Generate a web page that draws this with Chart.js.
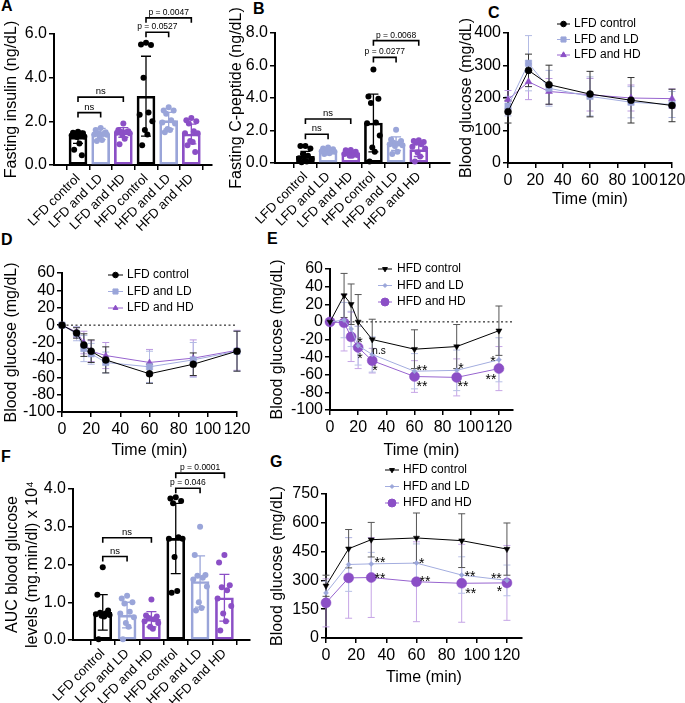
<!DOCTYPE html>
<html><head><meta charset="utf-8"><title>Figure</title>
<script src="https://cdn.jsdelivr.net/npm/chart.js@4.4.1/dist/chart.umd.min.js"></script>
<style>
html,body{margin:0;padding:0;background:#fff}
body{position:relative;width:685px;height:703px;overflow:hidden;font-family:"Liberation Sans",Arial,sans-serif}
canvas{position:absolute}
.pl{position:absolute;font:bold 16px "Liberation Sans",Arial,sans-serif;line-height:16px;color:#000}
</style></head><body>
<div class="pl" style="left:1px;top:-2px">A</div>
<div class="pl" style="left:253px;top:1px">B</div>
<div class="pl" style="left:488px;top:5px">C</div>
<div class="pl" style="left:1px;top:232px">D</div>
<div class="pl" style="left:267px;top:231px">E</div>
<div class="pl" style="left:1px;top:449px">F</div>
<div class="pl" style="left:270px;top:454px">G</div>
<script>
// ================= DATA =================
const groups = ['LFD control','LFD and LD','LFD and HD','HFD control','HFD and LD','HFD and HD'];

// A: fasting insulin (ng/dL)
const insulinMean = [1.27, 1.42, 1.49, 3.15, 2.03, 1.42];
const insulinSD   = [0.28, 0.26, 0.22, 1.83, 0.38, 0.45];
const insulinPts = [
  [1.52,1.48,1.45,1.42,1.38,1.35,1.30,1.28,0.99,0.70,0.45],
  [1.70,1.60,1.50,1.45,1.42,1.40,1.38,1.30,1.15,1.10],
  [1.90,1.60,1.55,1.52,1.50,1.48,1.45,1.40,1.20,0.95],
  [5.60,5.52,5.50,4.00,2.40,2.30,2.00,1.60,1.40,0.90],
  [2.65,2.50,2.50,2.35,2.05,1.95,1.90,1.65,1.60,1.50],
  [2.15,2.05,2.00,1.90,1.55,1.45,1.45,1.10,1.05,0.90,0.60]
];
const insulinSig = [
  {from:0,to:1,level:2.40,text:'ns'},
  {from:0,to:2,level:3.11,text:'ns'},
  {from:3,to:4,level:6.08,text:'p = 0.0527'},
  {from:3,to:5,level:6.74,text:'p = 0.0047'}
];

// B: fasting C-peptide (ng/dL)
const cpepMean = [0.41, 0.72, 0.62, 2.46, 1.19, 0.82];
const cpepSD   = [0.30, 0.15, 0.15, 1.78, 0.42, 0.42];
const cpepPts = [
  [1.05,1.05,0.90,0.55,0.45,0.30,0.25,0.15,0.10,0.05],
  [0.95,0.90,0.85,0.80,0.75,0.72,0.70,0.65,0.60,0.55],
  [0.80,0.78,0.70,0.65,0.60,0.55,0.50,0.45,0.45],
  [5.75,4.10,3.95,3.70,2.50,2.45,1.70,0.95,0.70,0.10],
  [2.05,1.45,1.35,1.25,1.20,1.15,1.10,1.05,0.70,0.55],
  [1.40,1.35,1.30,1.25,1.15,1.00,0.90,0.65,0.40,0.10]
];
const cpepSig = [
  {from:0,to:1,level:1.77,text:'ns'},
  {from:0,to:2,level:2.71,text:'ns'},
  {from:3,to:4,level:6.50,text:'p = 0.0277'},
  {from:3,to:5,level:7.53,text:'p = 0.0068'}
];

// F: AUC blood glucose (x10^4)
const aucMean = [0.73, 0.66, 0.55, 2.69, 1.55, 1.12];
const aucSD   = [0.47, 0.34, 0.20, 0.93, 0.68, 0.62];
const aucPts = [
  [1.93,1.20,0.78,0.72,0.70,0.68,0.66,0.64,0.62,0.02],
  [1.17,1.10,1.00,0.97,0.75,0.70,0.60,0.45,0.35,0.02],
  [1.07,0.65,0.62,0.58,0.55,0.50,0.45,0.35,0.30],
  [3.78,3.75,3.68,3.62,2.72,2.68,2.68,2.20,1.30,1.25],
  [3.00,2.25,1.72,1.70,1.65,1.60,1.42,1.00,0.85,0.78],
  [2.25,2.05,1.45,1.40,1.32,1.10,0.90,0.70,0.50,0.25]
];
const aucSig = [
  {from:0,to:1,level:2.21,text:'ns'},
  {from:0,to:2,level:2.71,text:'ns'},
  {from:3,to:4,level:4.02,text:'p = 0.046'},
  {from:3,to:5,level:4.42,text:'p = 0.0001'}
];

// time axes
const gttTimes = [0, 15, 30, 60, 90, 120];
const ittTimes = [0, 10, 15, 20, 30, 60, 90, 120];
const timeTicks = [0, 20, 40, 60, 80, 100, 120];

const lfdLabels = ['LFD control','LFD and LD','LFD and HD'];
const hfdLabels = ['HFD control','HFD and LD','HFD and HD'];

// C: GTT, LFD (mg/dL)
const gttLfdCtrl = [158, 285, 241, 212, 193, 177];
const gttLfdCtrlSD = [35, 50, 60, 70, 70, 50];
const gttLfdLD = [175, 307, 230, 205, 187, 180];
const gttLfdLDSD = [30, 85, 55, 60, 48, 40];
const gttLfdHD = [195, 250, 220, 210, 200, 198];
const gttLfdHDSD = [28, 55, 40, 50, 40, 30];

// D: ITT change, LFD (mg/dL)
const ittLfdCtrl = [0, -9, -23, -30, -40, -56, -45, -30];
const ittLfdCtrlSD = [0, 6, 13, 13, 15, 11, 13, 23];
const ittLfdLD = [0, -10, -27, -33, -43, -48, -40, -30];
const ittLfdLDSD = [0, 8, 15, 12, 12, 18, 20, 23];
const ittLfdHD = [0, -8, -20, -30, -35, -43, -38, -29];
const ittLfdHDSD = [0, 6, 13, 12, 15, 15, 21, 23];

// E: ITT change, HFD (mg/dL)
const ittHfdCtrl = [0, 30, 20, 0, -20, -31, -28, -10];
const ittHfdCtrlSD = [0, 25, 23, 31, 23, 22, 25, 28];
const ittHfdLD = [0, 2, -8, -27, -37, -56, -55, -43];
const ittHfdLDSD = [0, 20, 20, 22, 20, 20, 23, 25];
const ittHfdHD = [0, -1, -17, -29, -44, -62, -63, -53];
const ittHfdHDSD = [0, 32, 28, 24, 14, 18, 21, 25];
const ittHfdSig = [
  {x:21.3,y:-20,text:'*'},{x:21.3,y:-38,text:'*'},{x:34.8,y:-33,text:'n.s'},{x:32,y:-52,text:'*'},
  {x:65.3,y:-52,text:'**'},{x:65.3,y:-70,text:'**'},{x:93,y:-50,text:'*'},{x:94.5,y:-70,text:'**'},
  {x:115.8,y:-41,text:'*'},{x:114.4,y:-62,text:'**'}
];

// G: GTT, HFD (mg/dL)
const gttHfdCtrl = [272, 465, 512, 521, 507, 463];
const gttHfdCtrlSD = [55, 100, 90, 130, 140, 136];
const gttHfdLD = [235, 383, 386, 390, 328, 300];
const gttHfdLDSD = [60, 140, 60, 100, 95, 80];
const gttHfdHD = [183, 313, 315, 293, 285, 287];
const gttHfdHDSD = [125, 210, 208, 208, 203, 195];
const gttHfdSig = [
  {x:35.8,y:408,text:'**'},{x:35.8,y:326,text:'**'},{x:63.5,y:403,text:'*'},{x:65.6,y:312,text:'**'},
  {x:95.5,y:338,text:'**'},{x:96,y:248,text:'**'},{x:113,y:324,text:'**'},{x:115,y:257,text:'*'}
];

// ================= STYLE / HELPERS =================
const FONT = '"Liberation Sans", Arial, Helvetica, sans-serif';
Chart.defaults.font.family = FONT;
Chart.defaults.color = '#000';
Chart.defaults.animation = false;
Chart.defaults.responsive = false;
Chart.defaults.maintainAspectRatio = false;
Chart.defaults.plugins.legend.display = false;
Chart.defaults.plugins.tooltip.enabled = false;
Chart.defaults.events = [];

const C_BLACK = '#000000', C_LD = '#9aa5d9', C_HD = '#8b4fc6';
const groupColors = [C_BLACK, C_LD, C_HD, C_BLACK, C_LD, C_HD];
const jitter = [0, -0.22, 0.22, -0.11, 0.11, -0.28, 0.28, -0.05, 0.06, -0.17, 0.17];

function makeCanvas(box){
  const cv = document.createElement('canvas');
  cv.width = box.w; cv.height = box.h;
  cv.style.left = box.x+'px'; cv.style.top = box.y+'px';
  cv.style.width = box.w+'px'; cv.style.height = box.h+'px';
  document.body.appendChild(cv);
  return cv;
}
function setFont(ctx, size, weight){ ctx.font = (weight||'normal')+' '+size+'px '+FONT; }

function yScaleCfg(p){
  return {
    type:'linear', position:'left', min:p.yMin, max:p.yMax,
    border:{display:true,color:'#000',width:2},
    grid:{drawOnChartArea:false, drawTicks:true, tickLength:5, color:'#000', lineWidth:1.5},
    ticks:{stepSize:p.yStep, autoSkip:false, font:{size:16}, color:'#000', padding:2, callback:p.yFmt},
    title:{display:true, text:p.yTitle, color:'#000', font:{size:16, lineHeight:1.2},
           padding:{top:p.yTitleX - p.box.x - 9.6, bottom:0}},
    afterFit: s => { s.width = p.area.l - p.box.x; }
  };
}

function barPanel(p){
  const cv = makeCanvas(p.box);
  const xmin = -(p.catX0 - p.area.l)/p.catStep, xmax = (p.area.r - p.catX0)/p.catStep;
  const ds = [];
  ds.push({type:'bar', data:p.means.map((m,i)=>({x:i,y:m})), backgroundColor:'rgba(255,255,255,0)',
           borderColor:groupColors, borderWidth:2, borderSkipped:false, barThickness:p.barW, order:2});
  p.pts.forEach((arr,g)=>ds.push({type:'scatter', data:arr.map((v,j)=>({x:g+jitter[j%jitter.length], y:v})),
           pointRadius:3, pointBackgroundColor:groupColors[g], pointBorderWidth:0, order:1, clip:false}));
  const plug = {id:'barExtras', afterDatasetsDraw(ch){
    const ctx = ch.ctx, X = ch.scales.x, Y = ch.scales.y;
    ctx.save();
    p.means.forEach((m,i)=>{
      const px = X.getPixelForValue(i), t = Y.getPixelForValue(m+p.sds[i]), b = Y.getPixelForValue(Math.max(m-p.sds[i], p.yMin));
      ctx.strokeStyle = groupColors[i]; ctx.lineWidth = 1.3;
      ctx.beginPath(); ctx.moveTo(px,t); ctx.lineTo(px,b);
      ctx.moveTo(px-5,t); ctx.lineTo(px+5,t); ctx.moveTo(px-5,b); ctx.lineTo(px+5,b); ctx.stroke();
    });
    p.sig.forEach(s=>{
      const x1 = X.getPixelForValue(s.from), x2 = X.getPixelForValue(s.to), yy = Y.getPixelForValue(s.level);
      ctx.strokeStyle = '#000'; ctx.lineWidth = 1.6;
      ctx.beginPath(); ctx.moveTo(x1,yy+5); ctx.lineTo(x1,yy); ctx.lineTo(x2,yy); ctx.lineTo(x2,yy+5); ctx.stroke();
      ctx.fillStyle = '#000'; setFont(ctx, s.text==='ns'?9.5:8.5);
      ctx.textAlign='center'; ctx.textBaseline='alphabetic';
      ctx.fillText(s.text, (x1+x2)/2, yy-3);
    });
    ctx.restore();
  }};
  new Chart(cv, {type:'scatter', data:{datasets:ds}, options:{
    layout:{padding:{left:0, top:p.area.t-p.box.y, right:p.box.x+p.box.w-p.area.r, bottom:0}},
    scales:{
      x:{type:'linear', min:xmin, max:xmax,
         border:{display:true,color:'#000',width:2},
         grid:{drawOnChartArea:false, drawTicks:true, tickLength:5, color:'#000', lineWidth:1.5},
         afterBuildTicks: s => { s.ticks = groups.map((g,i)=>({value:i})); },
         ticks:{autoSkip:false, minRotation:45, maxRotation:45, font:{size:13}, color:'#000', padding:1,
                callback:(v)=>groups[Math.round(v)]},
         afterFit: s => { s.height = p.box.y+p.box.h-p.area.b; }},
      y: yScaleCfg(p)
    }}, plugins:[plug]});
}

function drawMarker(ctx, s, x, y, r){
  ctx.fillStyle = s.fill; ctx.strokeStyle = s.fill;
  if (Chart.helpers && Chart.helpers.drawPoint) {
    Chart.helpers.drawPoint(ctx, {pointStyle:s.style, radius:r, rotation:s.rot||0, borderWidth:0.5}, x, y);
  } else { ctx.beginPath(); ctx.arc(x,y,r,0,Math.PI*2); ctx.fill(); }
}

function linePanel(p){
  const cv = makeCanvas(p.box);
  const ds = p.series.map(s=>({type:'line', data:p.xs.map((t,i)=>({x:t,y:s.values[i]})),
    borderColor:s.line, borderWidth:1, pointStyle:s.style, pointRadius:s.r, pointRotation:s.rot||0,
    pointBackgroundColor:s.fill, pointBorderColor:s.fill, pointBorderWidth:0.5, tension:0, fill:false, clip:false}));
  const plug = {id:'lineExtras',
    beforeDatasetsDraw(ch){
      const ctx = ch.ctx, X = ch.scales.x, Y = ch.scales.y, a = ch.chartArea;
      ctx.save();
      if (p.zeroLine){
        const y0 = Y.getPixelForValue(0);
        ctx.strokeStyle='#000'; ctx.lineWidth=1; ctx.setLineDash([2,2.5]);
        ctx.beginPath(); ctx.moveTo(a.left, y0); ctx.lineTo(a.right, y0); ctx.stroke(); ctx.setLineDash([]);
      }
      p.series.slice().reverse().forEach(s=>{
        ctx.strokeStyle = s.err; ctx.lineWidth = 1;
        p.xs.forEach((t,i)=>{
          if(!s.sd[i]) return;
          const px = X.getPixelForValue(t), tp = Y.getPixelForValue(s.values[i]+s.sd[i]), bt = Y.getPixelForValue(s.values[i]-s.sd[i]);
          ctx.beginPath(); ctx.moveTo(px,tp); ctx.lineTo(px,bt);
          ctx.moveTo(px-3.5,tp); ctx.lineTo(px+3.5,tp); ctx.moveTo(px-3.5,bt); ctx.lineTo(px+3.5,bt); ctx.stroke();
        });
      });
      ctx.restore();
    },
    afterDatasetsDraw(ch){
      const ctx = ch.ctx, X = ch.scales.x, Y = ch.scales.y;
      ctx.save();
      (p.sig||[]).forEach(s=>{
        const px = X.getPixelForValue(s.x), py = Y.getPixelForValue(s.y);
        ctx.fillStyle='#000'; ctx.textAlign='center'; ctx.textBaseline='alphabetic';
        if (s.text==='n.s'){ setFont(ctx,10); ctx.fillText(s.text, px, py+3); }
        else { setFont(ctx,14); ctx.fillText(s.text, px, py+7.5); }
      });
      const L = p.legend;
      p.series.forEach((s,i)=>{
        const y = L.y + i*L.dy - p.box.y, x1 = L.x - p.box.x, x2 = x1 + L.len;
        ctx.strokeStyle = s.line; ctx.lineWidth = 1;
        ctx.beginPath(); ctx.moveTo(x1,y); ctx.lineTo(x2,y); ctx.stroke();
        drawMarker(ctx, s, (x1+x2)/2, y, s.r*0.8);
        ctx.fillStyle='#000'; setFont(ctx,12); ctx.textAlign='left'; ctx.textBaseline='middle';
        ctx.fillText(p.labels[i], L.textX - p.box.x, y);
      });
      ctx.restore();
    }};
  new Chart(cv, {type:'line', data:{datasets:ds}, options:{
    layout:{padding:{left:0, top:p.area.t-p.box.y, right:p.box.x+p.box.w-p.area.r, bottom:0}},
    scales:{
      x:{type:'linear', min:0, max:p.xMax,
         border:{display:true,color:'#000',width:2},
         grid:{drawOnChartArea:false, drawTicks:true, tickLength:5, color:'#000', lineWidth:1.5},
         afterBuildTicks: s => { s.ticks = timeTicks.map(v=>({value:v})); },
         ticks:{autoSkip:false, maxRotation:0, minRotation:0, font:{size:16}, color:'#000', padding:3},
         title:{display:true, text:'Time (min)', color:'#000', font:{size:16, lineHeight:1.2},
                padding:{top:0, bottom:(p.box.y+p.box.h) - p.xTitleY - 9.6}},
         afterFit: s => { s.height = p.box.y+p.box.h-p.area.b; }},
      y: yScaleCfg(p)
    }}, plugins:[plug]});
}

const fmt1 = v => Number(v).toFixed(1);
const LDL = '#a3addf', HDL = '#9764cf';

// ================= PANELS =================
barPanel({box:{x:0,y:0,w:222,h:238}, area:{l:54,t:34,r:212,b:165}, catX0:67, catStep:27.2, barW:18,
  yMin:0, yMax:6, yStep:2, yFmt:fmt1, yTitle:'Fasting insulin (ng/dL)', yTitleX:12,
  means:insulinMean, sds:insulinSD, pts:insulinPts, sig:insulinSig});

barPanel({box:{x:222,y:0,w:235,h:238}, area:{l:275,t:33,r:450,b:163}, catX0:294, catStep:27.2, barW:18,
  yMin:0, yMax:8, yStep:2, yFmt:fmt1, yTitle:'Fasting C-peptide (ng/dL)', yTitleX:237,
  means:cpepMean, sds:cpepSD, pts:cpepPts, sig:cpepSig});

linePanel({box:{x:445,y:0,w:250,h:215}, area:{l:508,t:33,r:672,b:163}, xMax:120, xs:gttTimes,
  yMin:0, yMax:400, yStep:100, yTitle:'Blood glucose (mg/dL)', yTitleX:467, xTitleY:200,
  labels:lfdLabels, legend:{x:557,len:13,textX:574,y:24,dy:15.5},
  series:[
    {values:gttLfdCtrl, sd:gttLfdCtrlSD, line:'#000', fill:'#000', err:'#333', style:'circle', r:3.5},
    {values:gttLfdLD, sd:gttLfdLDSD, line:LDL, fill:C_LD, err:'#b3bbe4', style:'rect', r:4.5},
    {values:gttLfdHD, sd:gttLfdHDSD, line:HDL, fill:C_HD, err:'#bb98e0', style:'triangle', r:4}
  ]});

linePanel({box:{x:0,y:238,w:255,h:225}, area:{l:62,t:273,r:237,b:412}, xMax:120, xs:ittTimes, zeroLine:true,
  yMin:-100, yMax:60, yStep:20, yTitle:'Blood glucose (mg/dL)', yTitleX:12, xTitleY:451,
  labels:lfdLabels, legend:{x:108,len:15,textX:127,y:275,dy:16.5},
  series:[
    {values:ittLfdCtrl, sd:ittLfdCtrlSD, line:'#000', fill:'#000', err:'#333', style:'circle', r:3.5},
    {values:ittLfdLD, sd:ittLfdLDSD, line:LDL, fill:C_LD, err:'#b3bbe4', style:'rect', r:4.5},
    {values:ittLfdHD, sd:ittLfdHDSD, line:HDL, fill:C_HD, err:'#bb98e0', style:'triangle', r:3.5}
  ]});

linePanel({box:{x:240,y:238,w:290,h:225}, area:{l:330,t:269,r:513,b:410}, xMax:130, xs:ittTimes, zeroLine:true,
  yMin:-100, yMax:60, yStep:20, yTitle:'Blood glucose (mg/dL)', yTitleX:278, xTitleY:451,
  labels:hfdLabels, legend:{x:378,len:14,textX:397,y:269,dy:16.5}, sig:ittHfdSig,
  series:[
    {values:ittHfdCtrl, sd:ittHfdCtrlSD, line:'#000', fill:'#000', err:'#555', style:'triangle', rot:180, r:3.5},
    {values:ittHfdLD, sd:ittHfdLDSD, line:LDL, fill:C_LD, err:'#b8c0e6', style:'rectRot', r:2.5},
    {values:ittHfdHD, sd:ittHfdHDSD, line:HDL, fill:C_HD, err:'#c6a6e6', style:'circle', r:5}
  ]});

barPanel({box:{x:0,y:458,w:255,h:245}, area:{l:73,t:489,r:250,b:640}, catX0:91, catStep:29.2, barW:18,
  yMin:0, yMax:4, yStep:1, yFmt:fmt1, yTitle:['AUC blood glucose','levels (mg.min/dl) x 10\u2074'], yTitleX:13,
  means:aucMean, sds:aucSD, pts:aucPts, sig:aucSig});

linePanel({box:{x:232,y:458,w:310,h:245}, area:{l:326,t:494,r:522,b:638}, xMax:130, xs:gttTimes,
  yMin:0, yMax:750, yStep:150, yTitle:'Blood glucose (mg/dL)', yTitleX:278, xTitleY:678,
  labels:hfdLabels, legend:{x:385,len:14,textX:403,y:470,dy:16.5}, sig:gttHfdSig,
  series:[
    {values:gttHfdCtrl, sd:gttHfdCtrlSD, line:'#000', fill:'#000', err:'#555', style:'triangle', rot:180, r:3.5},
    {values:gttHfdLD, sd:gttHfdLDSD, line:LDL, fill:C_LD, err:'#b8c0e6', style:'rectRot', r:2.5},
    {values:gttHfdHD, sd:gttHfdHDSD, line:HDL, fill:C_HD, err:'#c6a6e6', style:'circle', r:5}
  ]});
</script></body></html>
